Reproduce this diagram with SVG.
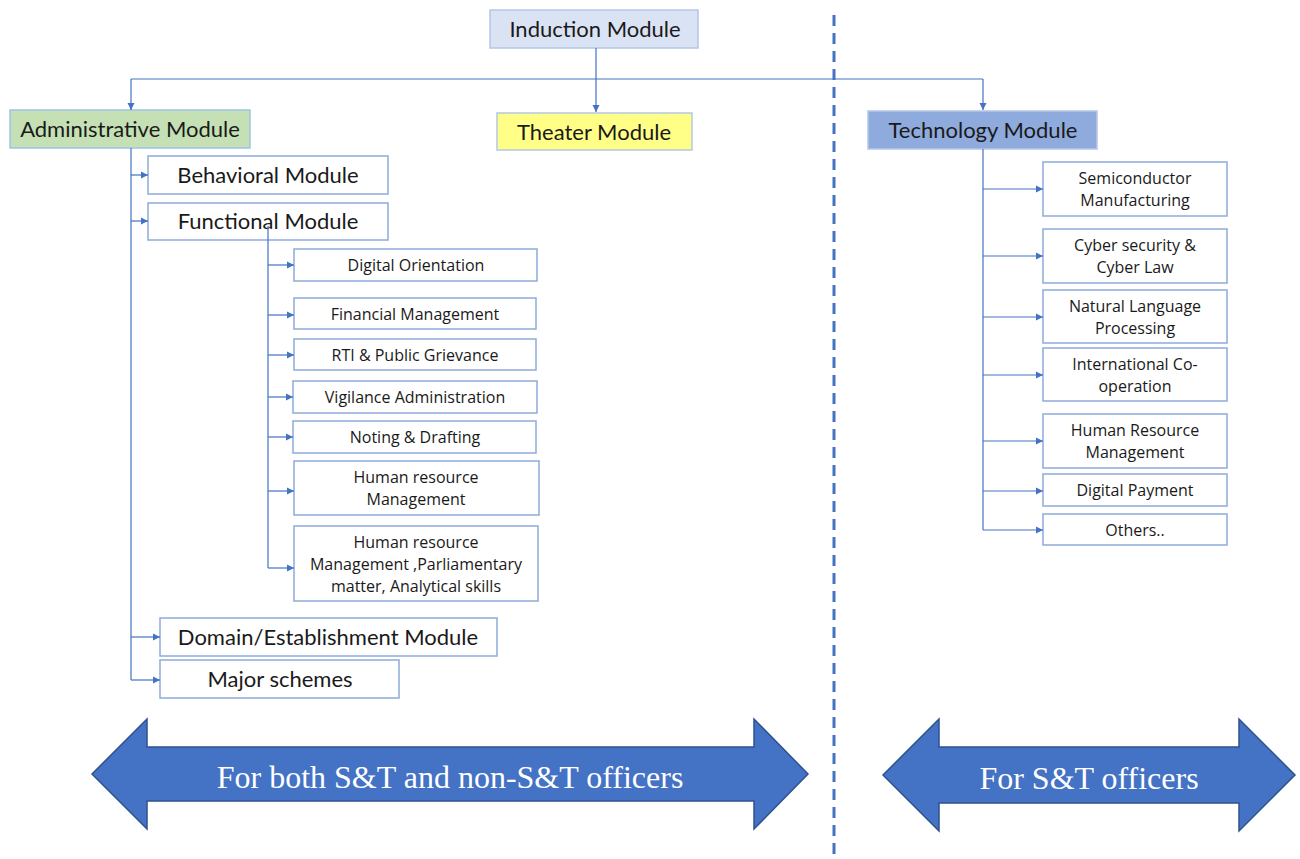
<svg xmlns="http://www.w3.org/2000/svg" width="1300" height="859" viewBox="0 0 1300 859">
<style>
  .box{fill:#ffffff;stroke:#8faadc;stroke-width:1.5}
  .t{font-family:Lato,"Liberation Sans",sans-serif;fill:#1a1a1a;text-anchor:middle}
  .big{font-size:22px}
  .sm{font-family:"Open Sans","Noto Sans",sans-serif;font-size:16px}
  .con{fill:none;stroke:#4472c4;stroke-width:1.2}
  .band{fill:#4472c4;stroke:#2f528f;stroke-width:1.5}
  .bt{font-family:"Liberation Serif","Times New Roman",serif;fill:#ffffff;font-size:32px;text-anchor:middle}
</style>
<defs>
  <marker id="ah" markerUnits="userSpaceOnUse" markerWidth="8" markerHeight="8" refX="7" refY="4" orient="auto">
    <path d="M0,0.5 L7,4 L0,7.5 Z" fill="#4472c4"/>
  </marker>
</defs>
<rect x="0" y="0" width="1300" height="859" fill="#ffffff"/>

<g id="nodes">
  <g id="induction"><rect x="490" y="10" width="208" height="38" fill="#dae3f3" stroke="#b4c7e7" stroke-width="1.5"/><text class="t big" x="595" y="37">Induction Module</text></g>
  <g id="administrative"><rect x="10" y="110" width="240" height="38" fill="#c5e0b4" stroke="#9dc3e6" stroke-width="1.5"/><text class="t big" x="130" y="137">Administrative Module</text></g>
  <g id="theater"><rect x="497" y="113" width="195" height="37" fill="#ffff88" stroke="#b4c7e7" stroke-width="1.5"/><text class="t big" x="594" y="140">Theater Module</text></g>
  <g id="technology"><rect x="868" y="111" width="229" height="38" fill="#8faadc" stroke="#b4c7e7" stroke-width="1.5"/><text class="t big" x="983" y="138">Technology Module</text></g>

  <g id="behavioral"><rect class="box" x="148" y="156" width="240" height="38"/><text class="t big" x="268" y="183">Behavioral Module</text></g>
  <g id="functional"><rect class="box" x="148" y="203" width="240" height="37"/><text class="t big" x="268" y="229">Functional Module</text></g>

  <g id="digital-orientation"><rect class="box" x="294" y="249" width="243" height="32"/><text class="t sm" x="416" y="271">Digital Orientation</text></g>
  <g id="financial"><rect class="box" x="294" y="298" width="242" height="31"/><text class="t sm" x="415" y="320">Financial Management</text></g>
  <g id="rti"><rect class="box" x="294" y="339" width="242" height="31"/><text class="t sm" x="415" y="361">RTI &amp; Public Grievance</text></g>
  <g id="vigilance"><rect class="box" x="293" y="381" width="244" height="32"/><text class="t sm" x="415" y="403">Vigilance Administration</text></g>
  <g id="noting"><rect class="box" x="293" y="421" width="243" height="32"/><text class="t sm" x="415" y="443">Noting &amp; Drafting</text></g>
  <g id="hr-admin"><rect class="box" x="294" y="461" width="245" height="54"/><text class="t sm" x="416" y="483">Human resource</text><text class="t sm" x="416" y="505">Management</text></g>
  <g id="hr-parl"><rect class="box" x="294" y="526" width="244" height="75"/><text class="t sm" x="416" y="548">Human resource</text><text class="t sm" x="416" y="570">Management ,Parliamentary</text><text class="t sm" x="416" y="592">matter, Analytical skills</text></g>

  <g id="domain"><rect class="box" x="160" y="618" width="337" height="38"/><text class="t big" x="328" y="645">Domain/Establishment Module</text></g>
  <g id="major"><rect class="box" x="160" y="660" width="239" height="38"/><text class="t big" x="280" y="687">Major schemes</text></g>

  <g id="semiconductor"><rect class="box" x="1043" y="162" width="184" height="54"/><text class="t sm" x="1135" y="184">Semiconductor</text><text class="t sm" x="1135" y="206">Manufacturing</text></g>
  <g id="cyber"><rect class="box" x="1043" y="229" width="184" height="54"/><text class="t sm" x="1135" y="251">Cyber security &amp;</text><text class="t sm" x="1135" y="273">Cyber Law</text></g>
  <g id="nlp"><rect class="box" x="1043" y="290" width="184" height="53"/><text class="t sm" x="1135" y="312">Natural Language</text><text class="t sm" x="1135" y="334">Processing</text></g>
  <g id="intl"><rect class="box" x="1043" y="348" width="184" height="53"/><text class="t sm" x="1135" y="370">International Co-</text><text class="t sm" x="1135" y="392">operation</text></g>
  <g id="hr-tech"><rect class="box" x="1043" y="414" width="184" height="54"/><text class="t sm" x="1135" y="436">Human Resource</text><text class="t sm" x="1135" y="458">Management</text></g>
  <g id="digital-payment"><rect class="box" x="1043" y="474" width="184" height="32"/><text class="t sm" x="1135" y="496">Digital Payment</text></g>
  <g id="others"><rect class="box" x="1043" y="514" width="184" height="31"/><text class="t sm" x="1135" y="536">Others..</text></g>
</g>

<g id="connectors">
  <path class="con" d="M596,48 V79"/>
  <path class="con" d="M131,79 H983"/>
  <path class="con" d="M131,79 V110" marker-end="url(#ah)"/>
  <path class="con" d="M596,79 V112" marker-end="url(#ah)"/>
  <path class="con" d="M983,79 V110" marker-end="url(#ah)"/>

  <path class="con" d="M131,148 V680"/>
  <path class="con" d="M131,175 H148" marker-end="url(#ah)"/>
  <path class="con" d="M131,221 H148" marker-end="url(#ah)"/>
  <path class="con" d="M131,637 H160" marker-end="url(#ah)"/>
  <path class="con" d="M131,680 H160" marker-end="url(#ah)"/>

  <path class="con" d="M268,226 V568"/>
  <path class="con" d="M268,265 H294" marker-end="url(#ah)"/>
  <path class="con" d="M268,315 H294" marker-end="url(#ah)"/>
  <path class="con" d="M268,355 H294" marker-end="url(#ah)"/>
  <path class="con" d="M268,397 H293" marker-end="url(#ah)"/>
  <path class="con" d="M268,437 H293" marker-end="url(#ah)"/>
  <path class="con" d="M268,491 H294" marker-end="url(#ah)"/>
  <path class="con" d="M268,568 H294" marker-end="url(#ah)"/>

  <path class="con" d="M983,149 V530"/>
  <path class="con" d="M983,189 H1043" marker-end="url(#ah)"/>
  <path class="con" d="M983,256 H1043" marker-end="url(#ah)"/>
  <path class="con" d="M983,317 H1043" marker-end="url(#ah)"/>
  <path class="con" d="M983,375 H1043" marker-end="url(#ah)"/>
  <path class="con" d="M983,441 H1043" marker-end="url(#ah)"/>
  <path class="con" d="M983,491 H1043" marker-end="url(#ah)"/>
  <path class="con" d="M983,530 H1043" marker-end="url(#ah)"/>
</g>

<line id="divider" x1="834" y1="15" x2="834" y2="859" stroke="#4472c4" stroke-width="3" stroke-dasharray="11,7"/>

<g id="band-left">
  <path class="band" d="M92,774 L147,719 L147,747 L754,747 L754,719 L808,774 L754,829 L754,801 L147,801 L147,829 Z"/>
  <text class="bt" x="450" y="788">For both S&amp;T and non-S&amp;T officers</text>
</g>
<g id="band-right">
  <path class="band" d="M883,775 L939,719 L939,747 L1239,747 L1239,719 L1295,775 L1239,831 L1239,803 L939,803 L939,831 Z"/>
  <text class="bt" x="1089" y="789">For S&amp;T officers</text>
</g>
</svg>
